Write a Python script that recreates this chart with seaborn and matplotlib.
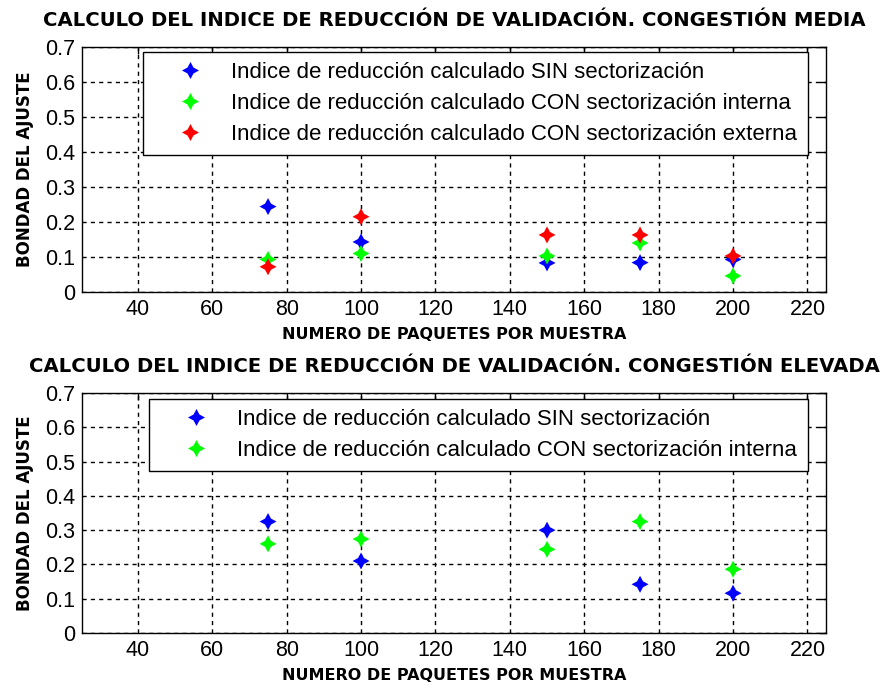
import pandas as pd
import matplotlib
matplotlib.use("Agg")
import matplotlib.pyplot as plt
import seaborn as sns

# Data
paquetes = [75, 100, 150, 175, 200]

media_sin = [0.244, 0.143, 0.083, 0.084, 0.093]
media_interna = [0.093, 0.110, 0.103, 0.140, 0.046]
media_externa = [0.072, 0.215, 0.163, 0.163, 0.103]

elevada_sin = [0.325, 0.210, 0.300, 0.142, 0.116]
elevada_interna = [0.260, 0.274, 0.244, 0.325, 0.186]

lab_sin = "Indice de reducción calculado SIN sectorización"
lab_int = "Indice de reducción calculado CON sectorización interna"
lab_ext = "Indice de reducción calculado CON sectorización externa"

titles = ["CALCULO DEL INDICE DE REDUCCIÓN DE VALIDACIÓN. CONGESTIÓN MEDIA",
          "CALCULO DEL INDICE DE REDUCCIÓN DE VALIDACIÓN. CONGESTIÓN ELEVADA"]
xlabel = "NUMERO DE PAQUETES POR MUESTRA"
ylabel = "BONDAD DEL AJUSTE"

colors = {lab_sin: "#0000ff", lab_int: "#00ff00", lab_ext: "#ff0000"}

sns.set_style("white")
plt.rcParams["font.family"] = ["Liberation Sans", "DejaVu Sans"]
plt.rcParams["text.color"] = "black"
plt.rcParams["axes.labelcolor"] = "black"

# 4 point star like the MATLAB markers
star = [(0, 1), (0.35, 0.35), (1, 0), (0.35, -0.35), (0, -1),
        (-0.35, -0.35), (-1, 0), (-0.35, 0.35), (0, 1)]


def long_df(series):
    rows = []
    for lab, vals in series:
        for x, y in zip(paquetes, vals):
            rows.append({"paquetes": x, "bondad": y, "serie": lab})
    return pd.DataFrame(rows)


df_media = long_df([(lab_sin, media_sin), (lab_int, media_interna), (lab_ext, media_externa)])
df_elevada = long_df([(lab_sin, elevada_sin), (lab_int, elevada_interna)])

fig = plt.figure(figsize=(8.83, 6.89), dpi=100)
ax1 = fig.add_axes([0.0929, 0.5762, 0.8426, 0.3556])
ax2 = fig.add_axes([0.0929, 0.0813, 0.8426, 0.3483])

setups = [(ax1, df_media, titles[0], (0.082, 0.4, 0.894, 0.58)),
          (ax2, df_elevada, titles[1], (0.090, 0.4, 0.886, 0.575))]

for ax, df, title, bbox in setups:
    sns.scatterplot(data=df, x="paquetes", y="bondad", hue="serie",
                    palette=colors, marker=star, s=150, linewidth=0, ax=ax)
    ax.set_xlim(25, 225)
    ax.set_ylim(0, 0.7)
    ax.set_xticks(range(40, 221, 20))
    ax.set_yticks([0, 0.1, 0.2, 0.3, 0.4, 0.5, 0.6, 0.7])
    ax.set_yticklabels(["0", "0.1", "0.2", "0.3", "0.4", "0.5", "0.6", "0.7"])
    ax.tick_params(direction="in", length=5, width=1, top=True, right=True,
                   labelsize=15.5, colors="black", pad=5)
    ax.grid(True, color="black", linestyle=(0, (3, 3)), linewidth=1)
    for sp in ax.spines.values():
        sp.set_color("black")
        sp.set_linewidth(1)
    ax.set_xlabel(xlabel, fontsize=11.5, fontweight="bold", family="DejaVu Sans", labelpad=5)
    ax.set_ylabel(ylabel, fontsize=12, fontweight="bold", family="DejaVu Sans", labelpad=8)
    ax.set_title(title, fontsize=14.1, fontweight="bold", family="DejaVu Sans", pad=15)
    leg = ax.legend(loc="upper left", bbox_to_anchor=bbox, mode="expand",
                    fontsize=16, frameon=True, fancybox=False, edgecolor="black",
                    borderpad=0.45, labelspacing=0.45, handlelength=3.3,
                    handletextpad=0.2, borderaxespad=0)
    leg.get_frame().set_linewidth(1)
    leg.get_frame().set_alpha(1)

fig.savefig("out.png", dpi=100)
